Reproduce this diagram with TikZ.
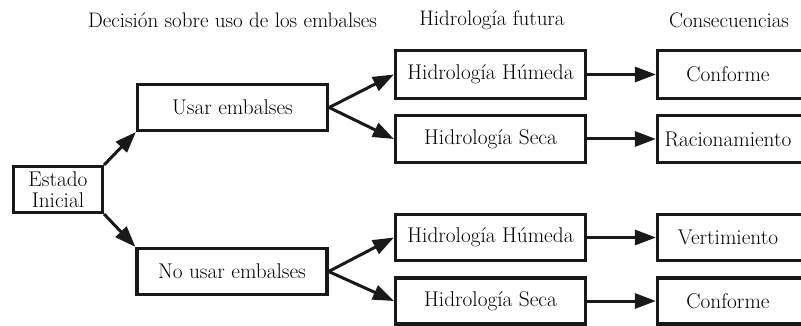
\documentclass[tikz,border=0pt]{standalone}
\usepackage{fontspec}
\setmainfont{Latin Modern Roman}
\usetikzlibrary{arrows.meta}
\begin{document}
\begin{tikzpicture}[x=1pt,y=-1pt,
  box/.style={draw=black!90, line width=3.2pt, inner sep=0pt, align=center,
    font=\fontsize{21.3}{21}\selectfont},
  txt/.style={inner sep=0pt, font=\fontsize{21.3}{21}\selectfont},
  head/.style={inner sep=0pt, font=\fontsize{21}{24}\selectfont},
  arr/.style={draw=black!90, line width=3pt,
    -{Triangle[length=21pt,width=15pt]}}]
\useasboundingbox (0,0) rectangle (801,326);

% column headings
\node[head] (h1) at (232.5,20) {Decisión sobre uso de los embalses};
\node[head] (h2) at (492,20) {Hidrología futura};
\node[head] (h3) at (729,20) {Consecuencias};

% root
\node[box, minimum width=89, minimum height=46] (ini) at (58,189.5) {Estado\\Inicial};

% decisions
\node[box, minimum width=190, minimum height=46] (usar) at (232.5,107.5) {Usar embalses};
\node[box, minimum width=190, minimum height=46] (nousar) at (232,271.5) {No usar embalses};

% hydrology
\node[box, minimum width=190, minimum height=48] (hh1) at (490.5,74.5) {Hidrología Húmeda};
\node[box, minimum width=190, minimum height=47] (hs1) at (490.5,139) {Hidrología Seca};
\node[box, minimum width=190, minimum height=46] (hh2) at (490.5,237.5) {Hidrología Húmeda};
\node[box, minimum width=190, minimum height=46] (hs2) at (490.5,301) {Hidrología Seca};

% consequences (boxes run past the right edge)
\node[box, minimum width=150, minimum height=48] (c1) at (732.5,74.5) {};
\node[box, minimum width=150, minimum height=47] (c2) at (732.5,139) {};
\node[box, minimum width=150, minimum height=46] (c3) at (732.5,237.5) {};
\node[box, minimum width=150, minimum height=46] (c4) at (732.5,301) {};
\node[txt] (t1) at (728,74.5) {Conforme};
\node[txt] (t2) at (728,139) {Racionamiento};
\node[txt] (t3) at (728,237.5) {Vertimiento};
\node[txt] (t4) at (728,301) {Conforme};

% connectors
\draw[arr] (ini.north east) -- (usar.south west);
\draw[arr] (ini.south east) -- (nousar.north west);
\draw[arr] (usar.east) -- (hh1.west);
\draw[arr] (usar.east) -- (hs1.west);
\draw[arr] (nousar.east) -- (hh2.west);
\draw[arr] (nousar.east) -- (hs2.west);
\draw[arr] (hh1.east) -- (c1.west);
\draw[arr] (hs1.east) -- (c2.west);
\draw[arr] (hh2.east) -- (c3.west);
\draw[arr] (hs2.east) -- (c4.west);
\end{tikzpicture}
\end{document}
